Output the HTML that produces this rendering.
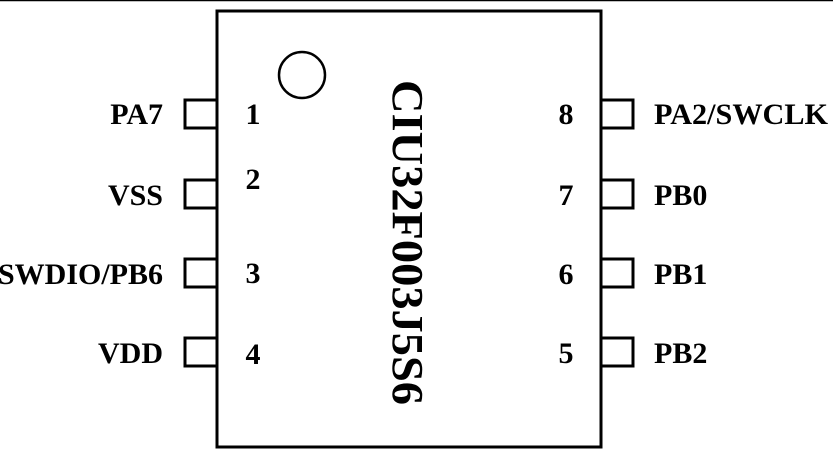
<!DOCTYPE html>
<html><head><style>html,body{margin:0;padding:0;background:#fff}</style></head>
<body>
<svg width="833" height="453" viewBox="0 0 833 453" xmlns="http://www.w3.org/2000/svg" font-family="Liberation Serif, serif" font-weight="bold">
<line x1="0" y1="0.5" x2="833" y2="0.5" stroke="#000" stroke-width="1.5"/>
<rect x="217" y="11" width="384" height="436" fill="none" stroke="#000" stroke-width="3"/>
<circle cx="302" cy="75" r="23" fill="none" stroke="#000" stroke-width="2.5"/>
<g fill="none" stroke="#000" stroke-width="3">
<rect x="185" y="100" width="32" height="28"/>
<rect x="185" y="180" width="32" height="28"/>
<rect x="185" y="259" width="32" height="28"/>
<rect x="185" y="338" width="32" height="28"/>
<rect x="601" y="100" width="32" height="28"/>
<rect x="601" y="180" width="32" height="28"/>
<rect x="601" y="259" width="32" height="28"/>
<rect x="601" y="338" width="32" height="28"/>
</g>
<g font-size="30" fill="#000">
<text x="163" y="124" text-anchor="end">PA7</text>
<text x="163" y="205" text-anchor="end">VSS</text>
<text x="163" y="284" text-anchor="end">SWDIO/PB6</text>
<text x="163" y="363" text-anchor="end">VDD</text>
<text x="253" y="124" text-anchor="middle">1</text>
<text x="253" y="189" text-anchor="middle">2</text>
<text x="253" y="283" text-anchor="middle">3</text>
<text x="253" y="364" text-anchor="middle">4</text>
<text x="566" y="124" text-anchor="middle">8</text>
<text x="566" y="205" text-anchor="middle">7</text>
<text x="566" y="284" text-anchor="middle">6</text>
<text x="566" y="363" text-anchor="middle">5</text>
<text x="654" y="124" textLength="174" lengthAdjust="spacingAndGlyphs">PA2/SWCLK</text>
<text x="654" y="205">PB0</text>
<text x="654" y="284">PB1</text>
<text x="654" y="363">PB2</text>
</g>
<text transform="translate(393,80) rotate(90)" font-size="44" textLength="325" lengthAdjust="spacingAndGlyphs" fill="#000">CIU32F003J5S6</text>
</svg>
</body></html>
